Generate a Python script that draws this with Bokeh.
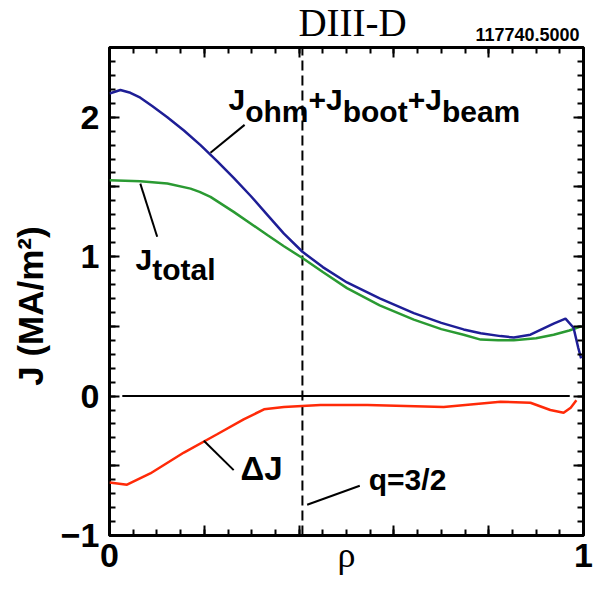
from bokeh.plotting import figure
from bokeh.layouts import column
from bokeh.models import Range1d, LinearAxis, FixedTicker, Label
from bokeh.embed import file_html
from bokeh.resources import INLINE

# ---- data ----
rho_sum = [0.0, 0.023, 0.044, 0.065, 0.09, 0.122, 0.157, 0.192, 0.227, 0.262, 0.298,
           0.333, 0.368, 0.407, 0.45, 0.501, 0.57, 0.642, 0.70, 0.747, 0.783, 0.825,
           0.853, 0.888, 0.937, 0.962, 0.979, 0.989, 0.995]
j_sum = [2.17, 2.195, 2.175, 2.14, 2.08, 2.00, 1.905, 1.80, 1.685, 1.565, 1.435,
         1.30, 1.165, 1.035, 0.925, 0.815, 0.70, 0.595, 0.525, 0.478, 0.45, 0.43,
         0.42, 0.44, 0.52, 0.555, 0.49, 0.345, 0.27]

rho_tot = [0.0, 0.065, 0.122, 0.171, 0.19, 0.213, 0.262, 0.333, 0.368, 0.407, 0.45,
           0.501, 0.57, 0.642, 0.70, 0.747, 0.783, 0.82, 0.853, 0.90, 0.937, 0.97, 0.995]
j_tot = [1.548, 1.541, 1.524, 1.488, 1.465, 1.429, 1.321, 1.155, 1.075, 0.99, 0.89,
         0.774, 0.65, 0.548, 0.48, 0.44, 0.405, 0.40, 0.40, 0.415, 0.44, 0.47, 0.50]

rho_dj = [0.0, 0.037, 0.086, 0.157, 0.227, 0.283, 0.326, 0.368, 0.445, 0.544,
          0.705, 0.825, 0.888, 0.930, 0.958, 0.973, 0.985]
dj = [-0.62, -0.636, -0.555, -0.405, -0.274, -0.167, -0.095, -0.079, -0.064, -0.064,
      -0.079, -0.04, -0.048, -0.10, -0.12, -0.083, -0.03]

zero_x = [0.027, 0.971]
zero_y = [0.0, 0.0]

q32_rho = 0.407

x_major = [0, 0.2, 0.4, 0.6, 0.8, 1]
x_labels = {0: "0", 0.2: "", 0.4: "", 0.6: "", 0.8: "", 1: "1"}
y_major = [-1, -0.5, 0, 0.5, 1, 1.5, 2, 2.5]
y_labels = {-1: "\u22121", -0.5: "", 0: "0", 0.5: "", 1: "1", 1.5: "", 2: "2", 2.5: ""}

x_minor = [round(0.05 * i, 2) for i in range(21)]
y_minor = [round(-1 + 0.1 * i, 2) for i in range(36)]

SANS = "Liberation Sans"
SERIF = "Liberation Serif"
PX_PER_Y = 488 / 3.5   # frame height in px / y span

# ---- main figure ----
p = figure(width=594, height=547, x_range=Range1d(0, 1), y_range=Range1d(-1, 2.5),
           output_backend="svg", toolbar_location=None,
           min_border_left=109, min_border_right=11, min_border_top=2, min_border_bottom=57)
p.title.visible = False
p.grid.visible = False
p.outline_line_color = "black"
p.outline_line_width = 3
p.background_fill_color = "white"
p.border_fill_color = "white"


def style_axis(ax, ticks, minor, labels, show):
    ax.ticker = FixedTicker(ticks=ticks, minor_ticks=minor)
    ax.major_tick_in = 10
    ax.major_tick_out = 0
    ax.minor_tick_in = 6
    ax.minor_tick_out = 0
    ax.major_tick_line_width = 2
    ax.minor_tick_line_width = 2
    ax.axis_line_color = None
    ax.major_label_overrides = labels
    if show:
        ax.major_label_text_font = SANS
        ax.major_label_text_font_style = "bold"
        ax.major_label_text_font_size = "34px"
        ax.major_label_text_color = "black"
    else:
        ax.major_label_text_font_size = "0px"
        ax.major_label_standoff = 0


style_axis(p.xaxis[0], x_major, x_minor, x_labels, True)
style_axis(p.yaxis[0], y_major, y_minor, y_labels, True)
p.xaxis[0].major_label_standoff = 8
p.yaxis[0].major_label_standoff = 10

p.xaxis[0].axis_label = "\u03c1"
p.xaxis[0].axis_label_text_font = SERIF
p.xaxis[0].axis_label_text_font_style = "normal"
p.xaxis[0].axis_label_text_font_size = "36px"
p.xaxis[0].axis_label_text_color = "black"
p.xaxis[0].axis_label_standoff = -35

p.yaxis[0].axis_label = "J (MA/m\u00b2)\u00a0\u00a0\u00a0"
p.yaxis[0].axis_label_text_font = SANS
p.yaxis[0].axis_label_text_font_style = "bold"
p.yaxis[0].axis_label_text_font_size = "35px"
p.yaxis[0].axis_label_text_color = "black"
p.yaxis[0].axis_label_standoff = 8

top = LinearAxis()
style_axis(top, x_major, x_minor, {k: "" for k in x_labels}, False)
p.add_layout(top, "above")
right = LinearAxis()
style_axis(right, y_major, y_minor, {k: "" for k in y_labels}, False)
p.add_layout(right, "right")

# curves
p.line(zero_x, zero_y, line_color="black", line_width=2)
p.line([q32_rho, q32_rho], [-1, 2.5], line_color="black", line_width=2, line_dash="10 5")
p.line(rho_tot, j_tot, line_color="#2a9a32", line_width=2.5)
p.line(rho_sum, j_sum, line_color="#1e1e96", line_width=2.5)
p.line(rho_dj, dj, line_color="#ff2a08", line_width=2.5)

# leader lines
leaders = [
    ([0.213, 0.285], [1.745, 1.945]),
    ([0.065, 0.1006], [1.524, 1.143]),
    ([0.199, 0.262], [-0.321, -0.531]),
    ([0.417, 0.528], [-0.779, -0.643]),
]
for lx, ly in leaders:
    p.line(lx, ly, line_color="black", line_width=2)


def lab(fig, x, y_base, text, size, font=SANS, style="bold", align="left", px_per_unit=PX_PER_Y):
    # anchor at the middle of the capitals, given the wanted baseline
    cap = 0.716 if font == SANS else 0.662
    y_mid = y_base + (cap * size / 2) / px_per_unit
    fig.add_layout(Label(x=x, y=y_mid, text=text, text_font=font,
                         text_font_size=f"{size}px", text_font_style=style,
                         text_align=align, text_baseline="middle", text_color="black"))


# J_ohm + J_boot + J_beam
lab(p, 0.2511, 2.048, "J", 30)
lab(p, 0.2863, 1.964, "ohm", 30)
lab(p, 0.4198, 2.048, "+", 30)
lab(p, 0.4568, 2.048, "J", 30)
lab(p, 0.4920, 1.964, "boot", 30)
lab(p, 0.6291, 2.048, "+", 30)
lab(p, 0.6660, 2.048, "J", 30)
lab(p, 0.7013, 1.964, "beam", 30)
# J_total
lab(p, 0.0549, 0.901, "J", 30)
lab(p, 0.0900, 0.829, "total", 30)
# Delta J
lab(p, 0.2764, -0.605, "\u0394J", 33)
# q = 3/2
lab(p, 0.547, -0.677, "q=3/2", 30)

# ---- header strip: same horizontal frame as the plot, vertical axis in pixels upward ----
head = figure(width=594, height=45, x_range=Range1d(0, 1), y_range=Range1d(0, 45),
              output_backend="svg", toolbar_location=None,
              x_axis_location=None, y_axis_location=None,
              min_border_left=109, min_border_right=11,
              min_border_top=0, min_border_bottom=0)
head.title.visible = False
head.grid.visible = False
head.outline_line_color = None
head.background_fill_color = "white"
head.border_fill_color = "white"

lab(head, 0.5127, 45 - 35, "DIII-D", 39, font=SERIF, style="normal", align="center", px_per_unit=1)
lab(head, 0.9916, 45 - 40.7, "117740.5000", 18, align="right", px_per_unit=1)

layout = column(head, p, spacing=0)
open("out.html", "w").write(file_html(layout, INLINE))
